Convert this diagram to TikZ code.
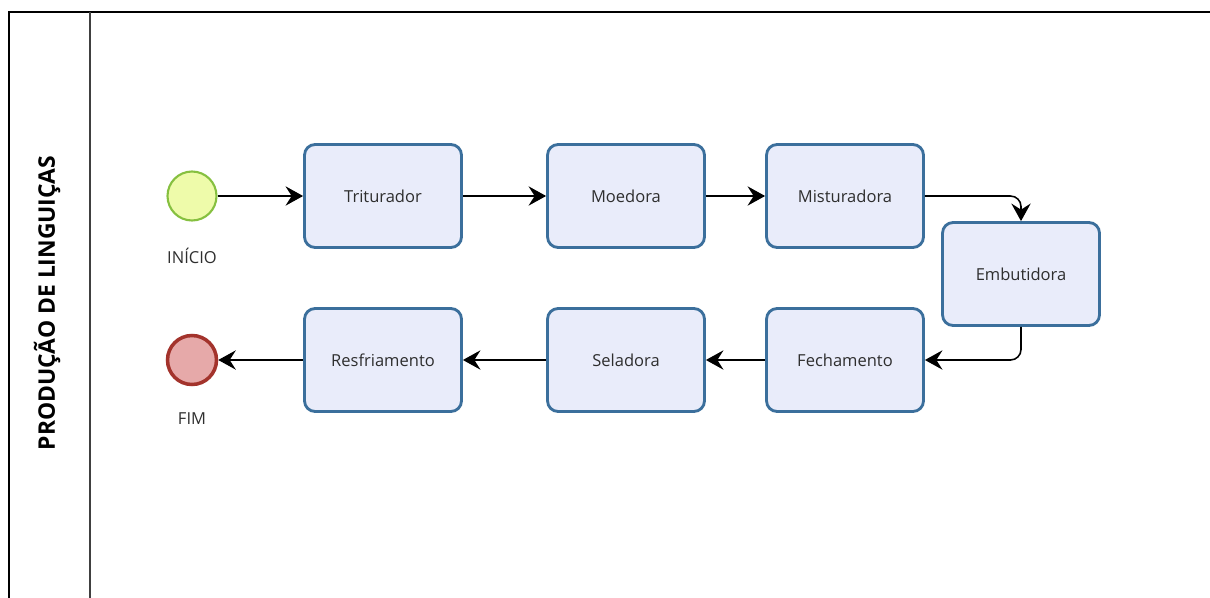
\documentclass[tikz,border=0pt]{standalone}
\usepackage{fontspec}
\setmainfont{Open Sans}
\usepackage{tikz}
\usetikzlibrary{arrows.meta}
\usetikzlibrary{positioning}

\definecolor{boxfill}{HTML}{E9ECFA}
\definecolor{boxline}{HTML}{3B6F9C}
\definecolor{startfill}{HTML}{EEFBAA}
\definecolor{startline}{HTML}{86C040}
\definecolor{endfill}{HTML}{E6A9A9}
\definecolor{endline}{HTML}{A3332C}
\definecolor{textgray}{HTML}{2E2E2E}

\tikzset{
  task/.style={draw=boxline, fill=boxfill, line width=1.6pt, rounded corners=6pt,
    minimum width=3.14cm, minimum height=2.06cm, font=\fontsize{9.4}{11}\selectfont, text=textgray},
  startev/.style={circle, draw=startline, fill=startfill, line width=1.2pt, minimum size=0.98cm},
  endev/.style={circle, draw=endline, fill=endfill, line width=2pt, minimum size=0.98cm},
  evlabel/.style={font=\fontsize{9.4}{11}\selectfont, text=textgray},
  flow/.style={-{Stealth[length=10pt,width=11pt,inset=3.5pt]}, line width=0.9pt, rounded corners=6pt}
}

\begin{document}
\begin{tikzpicture}[x=0.02cm, y=-0.02cm]
\useasboundingbox (0,0) rectangle (1210,598);
% lane
\draw[line width=1.6pt] (9,598) -- (9,12) -- (1210,12);
\draw[line width=1.6pt, black!75] (90,12) -- (90,598);
\node[rotate=90, font=\bfseries\fontsize{13}{15}\selectfont] (lane) at (47,303) {PRODUÇÃO DE LINGUIÇAS};
% events
\node[startev] (inicio) at (192,196) {};
\node[evlabel, below=0.4cm of inicio] (lblinicio) {INÍCIO};
\node[endev] (fim) at (192,360) {};
\node[evlabel, below=0.4cm of fim] (lblfim) {FIM};
% tasks
\node[task] (triturador) at (383,196) {Triturador};
\node[task] (moedora) at (626,196) {Moedora};
\node[task] (misturadora) at (845,196) {Misturadora};
\node[task] (embutidora) at (1021,274) {Embutidora};
\node[task] (fechamento) at (845,360) {Fechamento};
\node[task] (seladora) at (626,360) {Seladora};
\node[task] (resfriamento) at (383,360) {Resfriamento};
% flows
\draw[flow] (inicio) -- (triturador);
\draw[flow] (triturador) -- (moedora);
\draw[flow] (moedora) -- (misturadora);
\draw[flow] (misturadora.east) -| (embutidora.north);
\draw[flow] (embutidora.south) |- (fechamento.east);
\draw[flow] (fechamento) -- (seladora);
\draw[flow] (seladora) -- (resfriamento);
\draw[flow] (resfriamento) -- (fim);
\end{tikzpicture}
\end{document}
